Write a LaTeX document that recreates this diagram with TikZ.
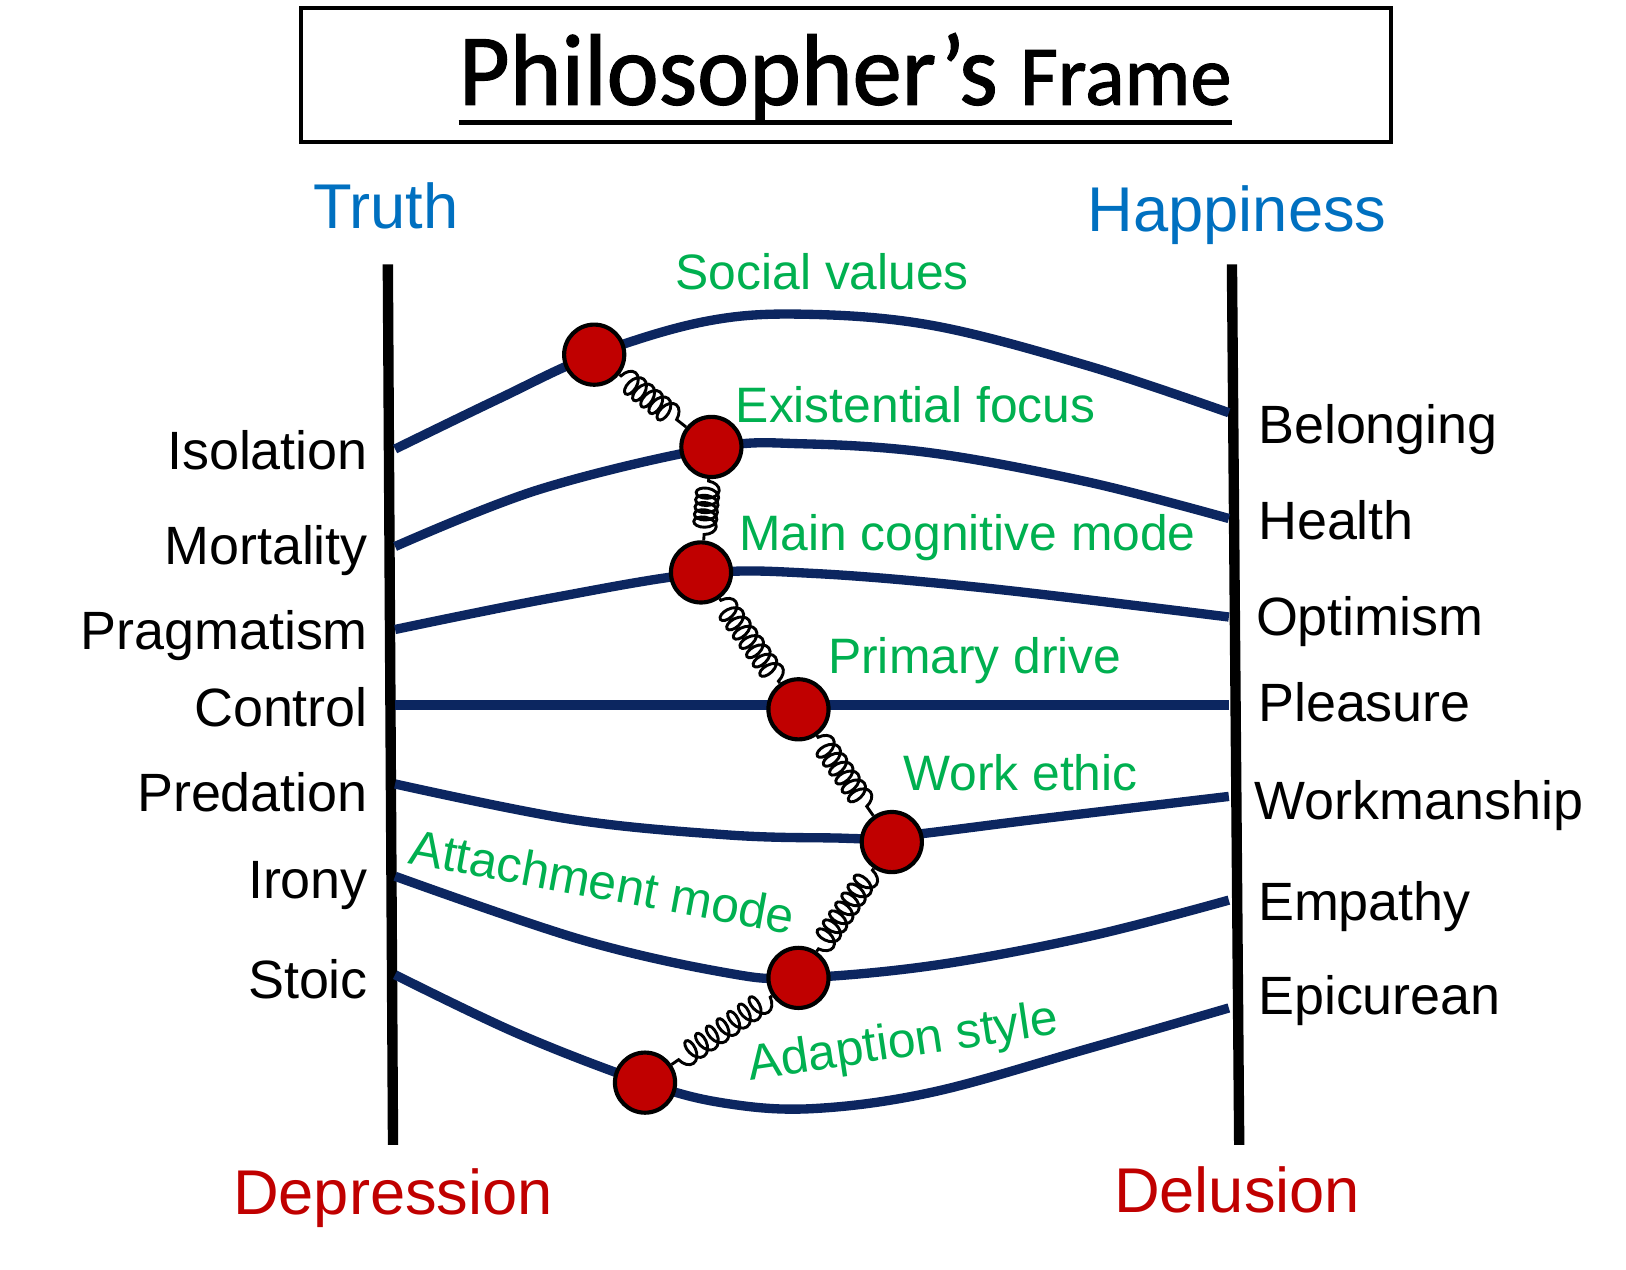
\documentclass[tikz,border=0pt]{standalone}
\usepackage{fontspec}
\setmainfont{Liberation Sans}
\newfontfamily\titlefont[FakeStretch=0.97,FakeBold=1.2]{Carlito}
\usetikzlibrary{decorations.pathmorphing}
\definecolor{navy}{HTML}{0C2660}
\definecolor{ballred}{HTML}{C00000}
\definecolor{lblgreen}{HTML}{00B050}
\definecolor{lblblue}{HTML}{0070C0}
\tikzset{
  axisline/.style={line width=10pt, black},
  wave/.style={line width=9pt, navy},
  ball/.style={circle, draw=black, line width=4pt, fill=ballred, minimum size=58pt, inner sep=0pt},
  spring/.style={line width=2.8pt, black, decorate, decoration={coil, amplitude=11pt, segment length=#1, aspect=0.6, pre length=2pt, post length=2pt}},
  spring/.default=11pt,
  leftlbl/.style={anchor=base east, inner sep=0pt, font=\fontsize{52}{60}\selectfont},
  rightlbl/.style={anchor=base west, inner sep=0pt, font=\fontsize{52}{60}\selectfont},
  greenlbl/.style={inner sep=0pt, text=lblgreen, font=\fontsize{48}{56}\selectfont},
  polelbl/.style={anchor=base, inner sep=0pt, font=\fontsize{61}{70}\selectfont},
}
\begin{document}
\begin{tikzpicture}[x=1pt,y=-1pt]
\path[use as bounding box, fill=white] (0,0) rectangle (1568,1224);
% title
\node[draw=black, line width=4pt, minimum width=1051pt, minimum height=129pt, inner sep=0pt] (frame) at (815.5,72.5) {};
\node[anchor=base, inner sep=0pt] (title) at (815,101) {\titlefont\fontsize{98}{100}\selectfont Philosopher’s {\fontsize{82}{90}\selectfont Frame}};
\draw[line width=5pt] ([yshift=-17pt]title.base west) coordinate (ulA) -- ([yshift=-17pt]title.base east) coordinate (ulB);
% poles
\node[polelbl, text=lblblue] (truth) at (372,220) {Truth};
\node[polelbl, text=lblblue] (happy) at (1193,223) {Happiness};
\node[polelbl, text=ballred] (depr) at (379,1171) {Depression};
\node[polelbl, text=ballred] (delu) at (1193,1169) {Delusion};
% axes
\coordinate (LT) at (374,255); \coordinate (LB) at (379,1104);
\coordinate (RT) at (1188,255); \coordinate (RB) at (1195,1104);
\draw[axisline] (LT) -- (LB);
\draw[axisline] (RT) -- (RB);
% waves
\draw[wave] plot[smooth, tension=0.6] coordinates {(381,433) (480,385) (573,342) (680,310) (775,303) (900,314) (1050,353) (1185,398)};
\draw[wave] plot[smooth, tension=0.6] coordinates {(381,527) (520,472) (686,432) (775,428) (900,437) (1050,465) (1185,500)};
\draw[wave] plot[smooth, tension=0.6] coordinates {(381,607) (530,577) (676,553) (785,553) (950,567) (1185,595)};
\draw[wave] (381,680) -- (1185,680);
\draw[wave] plot[smooth, tension=0.6] coordinates {(381,756) (550,790) (700,805) (800,808) (860,807) (1000,790) (1185,768)};
\draw[wave] plot[smooth, tension=0.6] coordinates {(381,845) (560,906) (700,938) (770,943) (900,931) (1050,903) (1185,868)};
\draw[wave] plot[smooth, tension=0.6] coordinates {(381,940) (500,997) (622,1044) (700,1064) (785,1069) (900,1053) (1050,1011) (1185,972)};
% balls
\node[ball] (b1) at (573,342) {};
\node[ball] (b2) at (686,431) {};
\node[ball] (b3) at (676,552) {};
\node[ball] (b4) at (770,684) {};
\node[ball] (b5) at (860,812) {};
\node[ball] (b6) at (770,943) {};
\node[ball] (b7) at (622,1044) {};
% springs
\draw[spring=10pt] (b1) -- (b2);
\draw[spring=7pt] (b2) -- (b3);
\draw[spring=11pt] (b3) -- (b4);
\draw[spring=10.5pt] (b4) -- (b5);
\draw[spring=10.5pt] (b5) -- (b6);
\draw[spring=12.5pt] (b6) -- (b7);
% left labels
\node[leftlbl] (l1) at (355,453) {Isolation};
\node[leftlbl] (l2) at (355,544) {Mortality};
\node[leftlbl] (l3) at (355,626) {Pragmatism};
\node[leftlbl] (l4) at (355,701) {Control};
\node[leftlbl] (l5) at (355,783) {Predation};
\node[leftlbl] (l6) at (355,866) {Irony};
\node[leftlbl] (l7) at (355,963) {Stoic};
% right labels
\node[rightlbl] (r1) at (1213,428) {Belonging};
\node[rightlbl] (r2) at (1213,520) {Health};
\node[rightlbl] (r3) at (1211,613) {Optimism};
\node[rightlbl] (r4) at (1213,696) {Pleasure};
\node[rightlbl] (r5) at (1210,790) {Workmanship};
\node[rightlbl] (r6) at (1213,888) {Empathy};
\node[rightlbl] (r7) at (1213,978) {Epicurean};
% green labels
\node[greenlbl] (g1) at (793,262) {Social values};
\node[greenlbl] (g2) at (883,390) {Existential focus};
\node[greenlbl] (g3) at (933,518) {Main cognitive mode};
\node[greenlbl] (g4) at (940,637) {Primary drive};
\node[greenlbl] (g5) at (984,745) {Work ethic};
\node[greenlbl, rotate=-10.5] (g6) at (581,850) {Attachment mode};
\node[greenlbl, rotate=8.5] (g7) at (871,1007) {Adaption style};
\end{tikzpicture}
\end{document}
